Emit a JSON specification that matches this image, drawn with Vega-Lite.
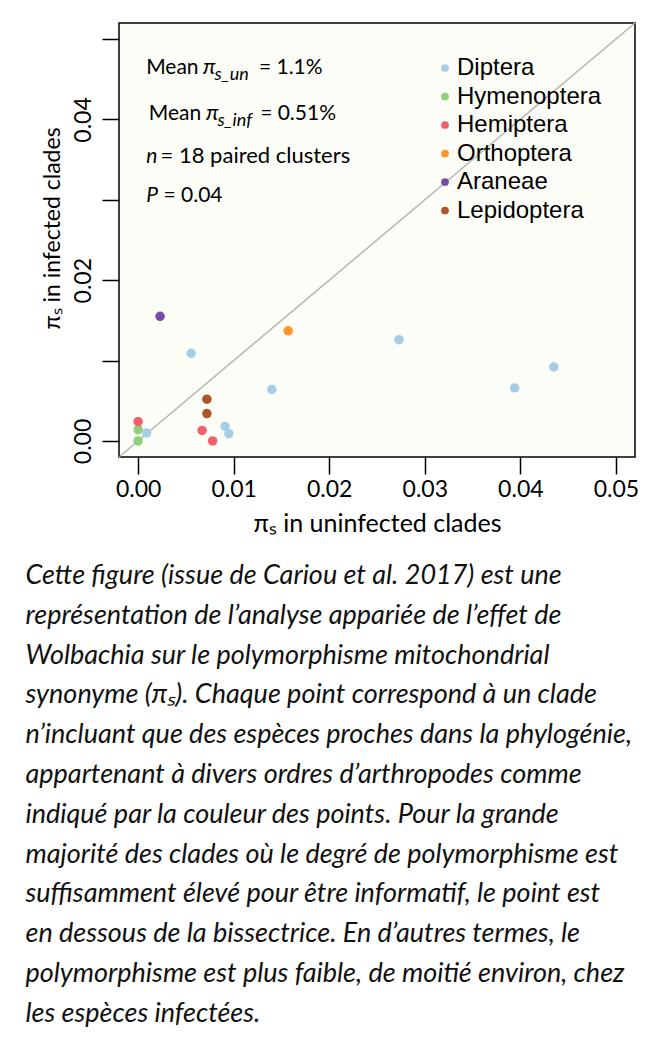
{
  "$schema": "https://vega.github.io/schema/vega-lite/v6.json",
  "background": "white",
  "padding": {"left": 25, "top": 22, "right": 5, "bottom": 5},
  "width": 516,
  "height": 434,
  "title": {
    "text": [
      "Cette figure (issue de Cariou et al. 2017) est une",
      "représentation de l’analyse appariée de l’effet de",
      "Wolbachia sur le polymorphisme mitochondrial",
      "synonyme (πₛ). Chaque point correspond à un clade",
      "n’incluant que des espèces proches dans la phylogénie,",
      "appartenant à divers ordres d’arthropodes comme",
      "indiqué par la couleur des points. Pour la grande",
      "majorité des clades où le degré de polymorphisme est",
      "suffisamment élevé pour être informatif, le point est",
      "en dessous de la bissectrice. En d’autres termes, le",
      "polymorphisme est plus faible, de moitié environ, chez",
      "les espèces infectées."
    ],
    "orient": "bottom",
    "anchor": "start",
    "frame": "bounds",
    "align": "left",
    "font": "Lato",
    "fontStyle": "italic",
    "fontWeight": "normal",
    "fontSize": 27,
    "lineHeight": 39.8,
    "color": "#111111",
    "offset": 27,
    "dx": -16
  },
  "layer": [
    {
      "data": {"values": [{}]},
      "mark": {"type": "rule", "color": "#b5b5b5", "strokeWidth": 1.5},
      "encoding": {
        "x": {"datum": -0.002, "type": "quantitative"},
        "y": {"datum": -0.002, "type": "quantitative"},
        "x2": {"datum": 0.052},
        "y2": {"datum": 0.052}
      }
    },
    {
      "data": {
        "values": [
          {"order": "Diptera", "pi_un": 0.0009, "pi_inf": 0.0010},
          {"order": "Diptera", "pi_un": 0.00555, "pi_inf": 0.0109},
          {"order": "Diptera", "pi_un": 0.0091, "pi_inf": 0.0018},
          {"order": "Diptera", "pi_un": 0.0095, "pi_inf": 0.0009},
          {"order": "Diptera", "pi_un": 0.0140, "pi_inf": 0.0064},
          {"order": "Diptera", "pi_un": 0.0273, "pi_inf": 0.0126},
          {"order": "Diptera", "pi_un": 0.0394, "pi_inf": 0.0066},
          {"order": "Diptera", "pi_un": 0.0435, "pi_inf": 0.0092},
          {"order": "Hymenoptera", "pi_un": 0.0, "pi_inf": 0.0014},
          {"order": "Hymenoptera", "pi_un": 0.0, "pi_inf": 0.0},
          {"order": "Hemiptera", "pi_un": 0.0, "pi_inf": 0.0024},
          {"order": "Hemiptera", "pi_un": 0.0067, "pi_inf": 0.0013},
          {"order": "Hemiptera", "pi_un": 0.0078, "pi_inf": 0.0},
          {"order": "Orthoptera", "pi_un": 0.0157, "pi_inf": 0.0137},
          {"order": "Araneae", "pi_un": 0.0023, "pi_inf": 0.0155},
          {"order": "Lepidoptera", "pi_un": 0.0072, "pi_inf": 0.0052},
          {"order": "Lepidoptera", "pi_un": 0.0072, "pi_inf": 0.0034}
        ]
      },
      "mark": {"type": "circle", "size": 90, "opacity": 1},
      "encoding": {
        "x": {
          "field": "pi_un",
          "type": "quantitative",
          "scale": {"domain": [-0.002, 0.052], "nice": false, "zero": false},
          "axis": {
            "title": "πₛ in uninfected clades",
            "values": [0, 0.01, 0.02, 0.03, 0.04, 0.05],
            "format": ".2f",
            "domain": false,
            "grid": false,
            "ticks": true,
            "tickSize": 17,
            "tickWidth": 1.5,
            "tickColor": "black",
            "labelFont": "Lato",
            "labelFontSize": 23,
            "labelColor": "black",
            "labelPadding": 4,
            "labelFlush": false,
            "labelOverlap": false,
            "titleFont": "Lato",
            "titleFontSize": 25,
            "titleFontWeight": "normal",
            "titleColor": "black",
            "titleBaseline": "alphabetic",
            "titleY": 74
          }
        },
        "y": {
          "field": "pi_inf",
          "type": "quantitative",
          "scale": {"domain": [-0.002, 0.052], "nice": false, "zero": false},
          "axis": {
            "title": "πₛ in infected clades",
            "values": [0, 0.01, 0.02, 0.03, 0.04, 0.05],
            "format": ".2f",
            "labelExpr": "indexof(['0.00','0.02','0.04'], datum.label) >= 0 ? datum.label : ''",
            "domain": false,
            "grid": false,
            "tickSize": 17,
            "tickWidth": 1.5,
            "tickColor": "black",
            "labelFont": "Lato",
            "labelFontSize": 23,
            "labelColor": "black",
            "labelAngle": -90,
            "labelAlign": "center",
            "labelBaseline": "bottom",
            "labelPadding": 7,
            "labelFlush": false,
            "labelOverlap": false,
            "titleFont": "Lato",
            "titleFontSize": 23,
            "titleFontWeight": "normal",
            "titleColor": "black",
            "titleAngle": -90,
            "titleAlign": "center",
            "titleBaseline": "alphabetic",
            "titleX": -59.5,
            "titleY": 205
          }
        },
        "color": {
          "field": "order",
          "type": "nominal",
          "scale": {
            "domain": ["Diptera", "Hymenoptera", "Hemiptera", "Orthoptera", "Araneae", "Lepidoptera"],
            "range": ["#a6cde6", "#90d07a", "#f2606c", "#fd962e", "#7a4ca8", "#b0552a"]
          },
          "legend": {
            "orient": "none",
            "legendX": 314,
            "legendY": 33,
            "title": null,
            "padding": 0,
            "labelFont": "Liberation Sans",
            "labelFontSize": 24,
            "labelColor": "black",
            "labelOffset": 0,
            "symbolType": "circle",
            "symbolSize": 60,
            "symbolStrokeWidth": 0,
            "symbolOpacity": 1,
            "rowPadding": 4.5
          }
        }
      }
    },
    {
      "data": {"values": [{}]},
      "mark": {"type": "text", "font": "Lato", "fontSize": 21, "align": "left", "baseline": "alphabetic", "color": "black"},
      "encoding": {"x": {"datum": 0.00084}, "y": {"datum": 0.04568}, "text": {"value": "Mean"}}
    },
    {
      "data": {"values": [{}]},
      "mark": {"type": "text", "font": "Lato", "fontSize": 22, "fontStyle": "italic", "align": "left", "baseline": "alphabetic", "color": "black"},
      "encoding": {"x": {"datum": 0.0068}, "y": {"datum": 0.04568}, "text": {"value": "π"}}
    },
    {
      "data": {"values": [{}]},
      "mark": {"type": "text", "font": "Lato", "fontSize": 18, "fontStyle": "italic", "align": "left", "baseline": "alphabetic", "dy": 6, "color": "black"},
      "encoding": {"x": {"datum": 0.0080}, "y": {"datum": 0.04568}, "text": {"value": "s_un"}}
    },
    {
      "data": {"values": [{}]},
      "mark": {"type": "text", "font": "Lato", "fontSize": 21, "align": "left", "baseline": "alphabetic", "color": "black"},
      "encoding": {"x": {"datum": 0.01264}, "y": {"datum": 0.04568}, "text": {"value": "= 1.1%"}}
    },
    {
      "data": {"values": [{}]},
      "mark": {"type": "text", "font": "Lato", "fontSize": 21, "align": "left", "baseline": "alphabetic", "color": "black"},
      "encoding": {"x": {"datum": 0.00112}, "y": {"datum": 0.03996}, "text": {"value": "Mean"}}
    },
    {
      "data": {"values": [{}]},
      "mark": {"type": "text", "font": "Lato", "fontSize": 22, "fontStyle": "italic", "align": "left", "baseline": "alphabetic", "color": "black"},
      "encoding": {"x": {"datum": 0.0071}, "y": {"datum": 0.03996}, "text": {"value": "π"}}
    },
    {
      "data": {"values": [{}]},
      "mark": {"type": "text", "font": "Lato", "fontSize": 18, "fontStyle": "italic", "align": "left", "baseline": "alphabetic", "dy": 6, "color": "black"},
      "encoding": {"x": {"datum": 0.0083}, "y": {"datum": 0.03996}, "text": {"value": "s_inf"}}
    },
    {
      "data": {"values": [{}]},
      "mark": {"type": "text", "font": "Lato", "fontSize": 21, "align": "left", "baseline": "alphabetic", "color": "black"},
      "encoding": {"x": {"datum": 0.01277}, "y": {"datum": 0.03996}, "text": {"value": "= 0.51%"}}
    },
    {
      "data": {"values": [{}]},
      "mark": {"type": "text", "font": "Lato", "fontSize": 21, "fontStyle": "italic", "align": "left", "baseline": "alphabetic", "color": "black"},
      "encoding": {"x": {"datum": 0.00084}, "y": {"datum": 0.03458}, "text": {"value": "n"}}
    },
    {
      "data": {"values": [{}]},
      "mark": {"type": "text", "font": "Lato", "fontSize": 22, "align": "left", "baseline": "alphabetic", "color": "black"},
      "encoding": {"x": {"datum": 0.00235}, "y": {"datum": 0.03458}, "text": {"value": "= 18 paired clusters"}}
    },
    {
      "data": {"values": [{}]},
      "mark": {"type": "text", "font": "Lato", "fontSize": 21, "fontStyle": "italic", "align": "left", "baseline": "alphabetic", "color": "black"},
      "encoding": {"x": {"datum": 0.00084}, "y": {"datum": 0.02973}, "text": {"value": "P"}}
    },
    {
      "data": {"values": [{}]},
      "mark": {"type": "text", "font": "Lato", "fontSize": 21, "align": "left", "baseline": "alphabetic", "color": "black"},
      "encoding": {"x": {"datum": 0.00265}, "y": {"datum": 0.02973}, "text": {"value": "= 0.04"}}
    }
  ],
  "config": {
    "view": {"stroke": "black", "strokeWidth": 1.5, "fill": "#fdfdf7"}
  }
}
